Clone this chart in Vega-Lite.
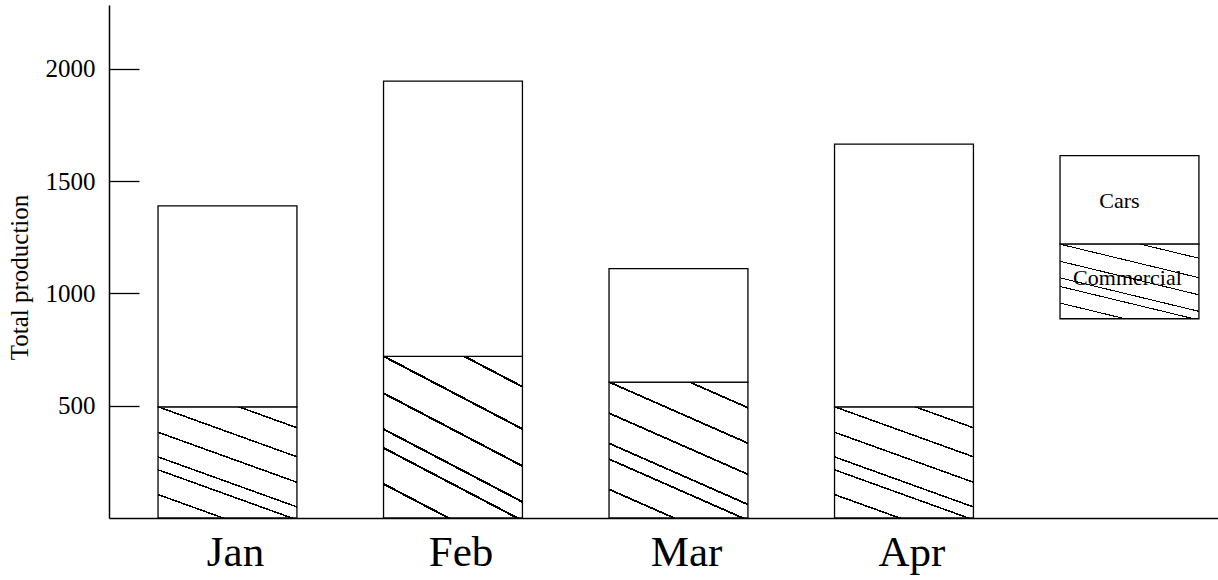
{
  "$schema": "https://vega.github.io/schema/vega-lite/v6.json",
  "width": 1109,
  "height": 513,
  "autosize": "none",
  "padding": {"left": 109, "top": 5, "right": 0, "bottom": 62},
  "background": "white",
  "config": {"view": {"stroke": null}, "font": "Liberation Serif"},
  "data": {
    "values": [
      {"month": "Jan", "series": "Commercial", "value": 495},
      {"month": "Jan", "series": "Cars", "value": 895},
      {"month": "Feb", "series": "Commercial", "value": 720},
      {"month": "Feb", "series": "Cars", "value": 1225},
      {"month": "Mar", "series": "Commercial", "value": 605},
      {"month": "Mar", "series": "Cars", "value": 505},
      {"month": "Apr", "series": "Commercial", "value": 495},
      {"month": "Apr", "series": "Cars", "value": 1170}
    ]
  },
  "layer": [
    {
      "mark": {"type": "bar", "stroke": "black", "strokeWidth": 1.3},
      "encoding": {
        "x": {
          "field": "month",
          "type": "nominal",
          "sort": null,
          "scale": {"domain": ["Jan", "Feb", "Mar", "Apr", "Key"], "paddingInner": 0.384, "paddingOuter": 0.151, "align": 0.72},
          "axis": {
            "title": null,
            "ticks": false,
            "labelExpr": "datum.value === 'Key' ? '' : datum.value",
            "labelFont": "Liberation Serif",
            "labelFontSize": 43,
            "labelColor": "black",
            "labelAngle": 0,
            "labelBaseline": "alphabetic",
            "labelPadding": 47,
            "labelOffset": 8,
            "domainColor": "black",
            "domainWidth": 1.5
          }
        },
        "y": {
          "field": "value",
          "type": "quantitative",
          "stack": "zero",
          "scale": {"domain": [0, 2284], "nice": false},
          "axis": {
            "title": "Total production",
            "values": [500, 1000, 1500, 2000],
            "format": "d",
            "grid": false,
            "tickSize": -30,
            "tickColor": "black",
            "tickWidth": 1.3,
            "domainColor": "black",
            "domainWidth": 1.5,
            "labelPadding": 44,
            "labelFont": "Liberation Serif",
            "labelFontSize": 25,
            "labelColor": "black",
            "titleFont": "Liberation Serif",
            "titleFontSize": 25,
            "titleFontWeight": "normal",
            "titleColor": "black",
            "titleAngle": -90,
            "titleAlign": "center",
            "titleBaseline": "top",
            "titleX": -102,
            "titleY": 272
          }
        },
        "order": {"field": "series", "sort": "descending"},
        "fill": {
          "condition": {
            "test": "datum.series === 'Commercial'",
            "value": {
              "gradient": "linear",
              "x1": 0, "y1": 1, "x2": 0.5426, "y2": -0.2058,
              "stops": [
                {"offset": 0, "color": "white"},
                {"offset": 0.1405, "color": "white"}, {"offset": 0.1405, "color": "black"},
                {"offset": 0.1505, "color": "black"}, {"offset": 0.1505, "color": "white"},
                {"offset": 0.294, "color": "white"}, {"offset": 0.294, "color": "black"},
                {"offset": 0.304, "color": "black"}, {"offset": 0.304, "color": "white"},
                {"offset": 0.374, "color": "white"}, {"offset": 0.374, "color": "black"},
                {"offset": 0.384, "color": "black"}, {"offset": 0.384, "color": "white"},
                {"offset": 0.527, "color": "white"}, {"offset": 0.527, "color": "black"},
                {"offset": 0.537, "color": "black"}, {"offset": 0.537, "color": "white"},
                {"offset": 0.685, "color": "white"}, {"offset": 0.685, "color": "black"},
                {"offset": 0.695, "color": "black"}, {"offset": 0.695, "color": "white"},
                {"offset": 0.865, "color": "white"}, {"offset": 0.865, "color": "black"},
                {"offset": 0.875, "color": "black"}, {"offset": 0.875, "color": "white"},
                {"offset": 1, "color": "white"}
              ]
            }
          },
          "value": "white"
        }
      }
    },
    {
      "data": {"values": [{"part": "Cars"}]},
      "mark": {"type": "bar", "stroke": "black", "strokeWidth": 1.3, "fill": "white"},
      "encoding": {
        "x": {"datum": "Key", "type": "nominal"},
        "y": {"datum": 1219, "type": "quantitative"},
        "y2": {"datum": 1613}
      }
    },
    {
      "data": {"values": [{"part": "Commercial"}]},
      "mark": {
        "type": "bar", "stroke": "black", "strokeWidth": 1.3,
        "fill": {
          "gradient": "linear",
          "x1": 0, "y1": 1, "x2": 0.5426, "y2": -0.2058,
          "stops": [
            {"offset": 0, "color": "white"},
            {"offset": 0.1405, "color": "white"}, {"offset": 0.1405, "color": "black"},
            {"offset": 0.1505, "color": "black"}, {"offset": 0.1505, "color": "white"},
            {"offset": 0.294, "color": "white"}, {"offset": 0.294, "color": "black"},
            {"offset": 0.304, "color": "black"}, {"offset": 0.304, "color": "white"},
            {"offset": 0.374, "color": "white"}, {"offset": 0.374, "color": "black"},
            {"offset": 0.384, "color": "black"}, {"offset": 0.384, "color": "white"},
            {"offset": 0.527, "color": "white"}, {"offset": 0.527, "color": "black"},
            {"offset": 0.537, "color": "black"}, {"offset": 0.537, "color": "white"},
            {"offset": 0.685, "color": "white"}, {"offset": 0.685, "color": "black"},
            {"offset": 0.695, "color": "black"}, {"offset": 0.695, "color": "white"},
            {"offset": 0.865, "color": "white"}, {"offset": 0.865, "color": "black"},
            {"offset": 0.875, "color": "black"}, {"offset": 0.875, "color": "white"},
            {"offset": 1, "color": "white"}
          ]
        }
      },
      "encoding": {
        "x": {"datum": "Key", "type": "nominal"},
        "y": {"datum": 887, "type": "quantitative"},
        "y2": {"datum": 1219}
      }
    },
    {
      "data": {"values": [{"label": "Cars"}]},
      "mark": {"type": "text", "font": "Liberation Serif", "fontSize": 22, "color": "black", "dx": -10, "baseline": "alphabetic"},
      "encoding": {
        "text": {"field": "label"},
        "x": {"datum": "Key", "type": "nominal"},
        "y": {"datum": 1381, "type": "quantitative"}
      }
    },
    {
      "data": {"values": [{"label": "Commercial"}]},
      "mark": {"type": "text", "font": "Liberation Serif", "fontSize": 22, "color": "black", "dx": -2, "baseline": "alphabetic"},
      "encoding": {
        "text": {"field": "label"},
        "x": {"datum": "Key", "type": "nominal"},
        "y": {"datum": 1039, "type": "quantitative"}
      }
    }
  ]
}
